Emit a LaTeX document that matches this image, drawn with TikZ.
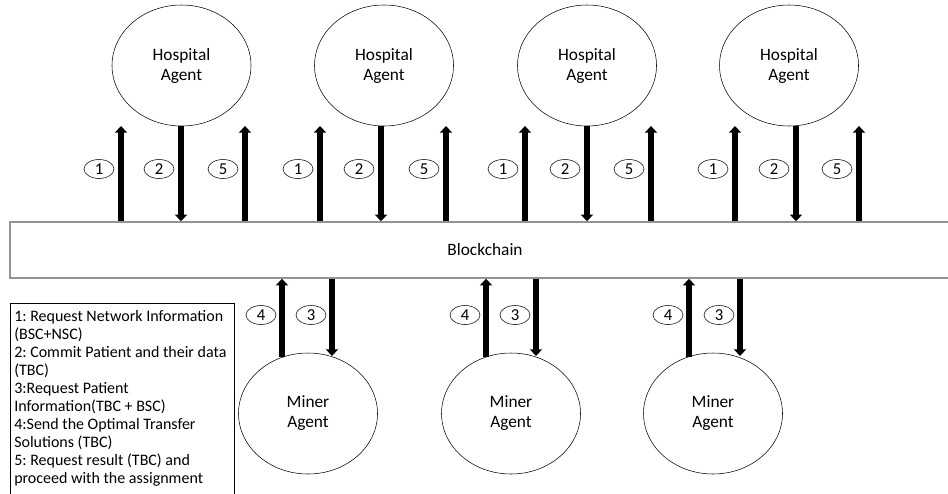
\documentclass[tikz,border=0pt]{standalone}
\usepackage{fontspec}
\setmainfont{Carlito}
\frenchspacing
\usetikzlibrary{positioning, arrows.meta, shapes.geometric}
\tikzset{%
  x=0.75pt, y=-0.75pt,
  agent/.style={
    draw, ellipse, thin,
    minimum width=104.25pt, minimum height=90.75pt,
    inner sep=0pt, align=center,
    font=\fontsize{13pt}{15pt}\selectfont},
  tag/.style={
    draw, ellipse, thin,
    minimum width=22.5pt, minimum height=14.25pt,
    inner sep=0pt, font=\fontsize{12.5pt}{14pt}\selectfont},
  ledger/.style={
    draw=gray!85, line width=1.1pt,
    minimum width=712.5pt, minimum height=42pt,
    font=\fontsize{13pt}{15pt}\selectfont},
  keybox/.style={
    draw, thin, anchor=north west,
    inner xsep=3pt, inner ysep=5pt,
    font=\fontsize{12pt}{13.5pt}\selectfont},
  every edge/.style={
    draw,
    line width=4.5pt,
    -{Triangle[width=9pt, length=5pt]}} %
}

\begin{document}
\begin{tikzpicture}
    \useasboundingbox (0,0) rectangle (948,493);

    \node[ledger] (chain) at (485,250) {Blockchain};

    \foreach \n/\x in {1/181.5, 2/384, 3/587, 4/789}
      \node[agent] (h\n) at (\x,65.5) {Hospital\\Agent};
    \foreach \n/\x in {1/308, 2/511, 3/713}
      \node[agent] (m\n) at (\x,413.5) {Miner\\Agent};

    % hospital side: 1 and 5 go up, 2 comes down
    \foreach \n/\a/\b/\c in {1/121/181/245, 2/320/381/446, 3/525/587/651, 4/735/796/859} {
      \coordinate (hA\n) at (\a,126);
      \coordinate (hB\n) at (\b,126);
      \coordinate (hC\n) at (\c,126);
      \node[tag] (tA\n) at (\a-22,169) {1};
      \node[tag] (tB\n) at (\b-22,169) {2};
      \node[tag] (tC\n) at (\c-22,169) {5};
      \draw
        (hA\n |- chain.north) edge (hA\n)
        (hB\n) edge (hB\n |- chain.north)
        (hC\n |- chain.north) edge (hC\n)
      ;
    }

    % miner side: 4 goes up, 3 comes down
    \foreach \n/\a/\b in {1/282/332, 2/486/536, 3/689/740} {
      \coordinate (mA\n) at (\a,357);
      \coordinate (mB\n) at (\b,356);
      \node[tag] (uA\n) at (\a-21,315) {4};
      \node[tag] (uB\n) at (\b-21,315) {3};
      \draw
        (mA\n) edge (mA\n |- chain.south)
        (mB\n |- chain.south) edge (mB\n)
      ;
    }

    \node[keybox] (key) at (10,303) {%
      \begin{minipage}[t][152pt][t]{162pt}
        \raggedright
        1: Request Network Information\\
        (BSC+NSC)\\
        2: Commit Patient and their data\\
        (TBC)\\
        3:Request Patient\\
        Information(TBC + BSC)\\
        4:Send the Optimal Transfer\\
        Solutions (TBC)\\
        5: Request result (TBC) and\\
        proceed with the assignment
      \end{minipage}};

\end{tikzpicture}
\end{document}
